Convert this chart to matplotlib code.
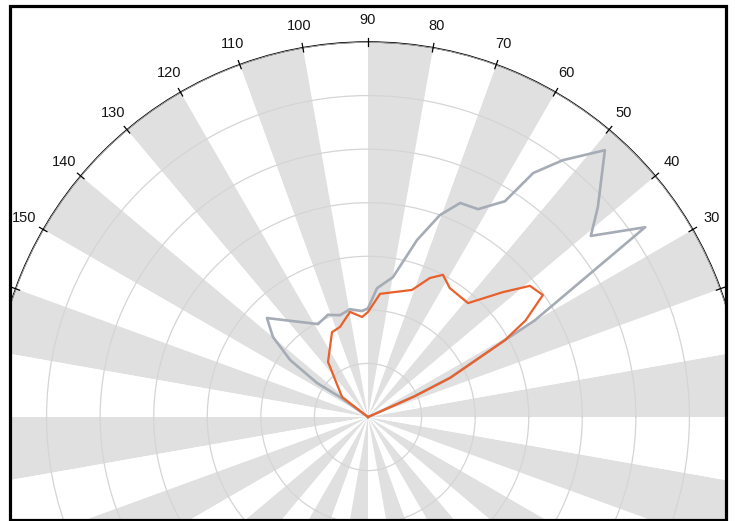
import numpy as np
import matplotlib
matplotlib.use("Agg")
import matplotlib.pyplot as plt
from matplotlib.patches import Rectangle

plt.rcParams['font.family'] = ['Liberation Sans', 'DejaVu Sans']

# angle labels shown on the outer arc
label_angles = [30, 40, 50, 60, 70, 80, 90, 100, 110, 120, 130, 140, 150]

# grey series (degrees, radius in ring units)
grey_theta = [0, 24, 25.5, 29.3, 30.1, 34.4, 39.1, 42.4, 48.4, 52.8, 55.9, 57.6,
              62.1, 66.7, 70.4, 74.5, 79.9, 86.0, 90.0, 93.2, 99.5, 105.4, 111.4,
              118.3, 135.6, 139.9, 143.8, 146.3, 144.5, 0]
grey_r = [0, 0.95, 1.70, 2.93, 3.60, 6.27, 5.36, 5.81, 6.66, 6.02, 5.50, 4.77,
          4.39, 4.35, 4.00, 3.43, 2.65, 2.41, 2.03, 1.98, 2.04, 1.97, 2.05,
          1.97, 2.64, 2.32, 1.80, 1.14, 0.64, 0]

# orange series
orange_theta = [0, 24, 25.5, 29.3, 31.5, 34.9, 39.0, 42.8, 48.7, 57.6, 62.2,
                66.0, 70.9, 84.4, 90.0, 93.4, 99.7, 107.3, 113.0, 126.0, 127.2,
                135.0, 142.4, 0]
orange_r = [0, 0.95, 1.70, 2.93, 3.45, 3.98, 3.89, 3.43, 2.83, 2.85, 3.00,
            2.84, 2.51, 2.31, 1.96, 1.87, 1.99, 1.76, 1.72, 1.27, 1.17,
            0.79, 0.61, 0]

W, H = 735, 521
fig = plt.figure(figsize=(W / 100, H / 100), dpi=100)

# polar axes: centre at (368, 417) px from top, outer radius 375 px
cx, cy, R = 368, H - 417, 375
ax = fig.add_axes([(cx - R) / W, (cy - R) / H, 2 * R / W, 2 * R / H], projection='polar')
ax.set_ylim(0, 7)

# alternating 10 degree sectors
starts = np.arange(0, 360, 10)
colors = ['#e0e0e0' if i % 2 == 0 else 'white' for i in range(len(starts))]
ax.bar(np.deg2rad(starts + 5), 7, width=np.deg2rad(10), color=colors,
       edgecolor='none', zorder=0.5)

ax.set_rgrids(range(1, 8), labels=[''] * 7)
ax.yaxis.grid(True, color='#d5d5d5', linewidth=0.9)
ax.set_axisbelow(False)
ax.xaxis.grid(False)

ticks = np.arange(0, 360, 10)
ax.set_thetagrids(ticks, labels=[str(t) if t in label_angles else '' for t in ticks])
ax.tick_params(axis='x', length=0, labelsize=10.5, labelcolor='#151515', pad=9)
ax.spines['polar'].set_color('black')
ax.spines['polar'].set_linewidth(1.1)

# small tick marks crossing the outer arc
for t in ticks:
    ax.plot([np.deg2rad(t)] * 2, [6.92, 7.08], color='black', linewidth=0.9,
            clip_on=False, zorder=4)

ax.plot(np.deg2rad(grey_theta), grey_r, color='#a6acb5', linewidth=1.9, zorder=3)
ax.plot(np.deg2rad(orange_theta), orange_r, color='#e8602c', linewidth=1.6, zorder=4)

# white margins outside the frame and the black frame itself
x0, x1, y0, y1 = 9.5 / W, 726 / W, 1 / H, (H - 6) / H
for rx, ry, rw, rh in [(0, 0, x0, 1), (x1, 0, 1 - x1, 1), (0, y1, 1, 1 - y1), (0, 0, 1, y0)]:
    fig.add_artist(Rectangle((rx, ry), rw, rh, transform=fig.transFigure,
                             facecolor='white', edgecolor='none', zorder=5))
fig.add_artist(Rectangle((x0, y0), x1 - x0, y1 - y0, transform=fig.transFigure,
                         fill=False, edgecolor='black', linewidth=2.3, zorder=6))

fig.savefig('out.png', dpi=100)
